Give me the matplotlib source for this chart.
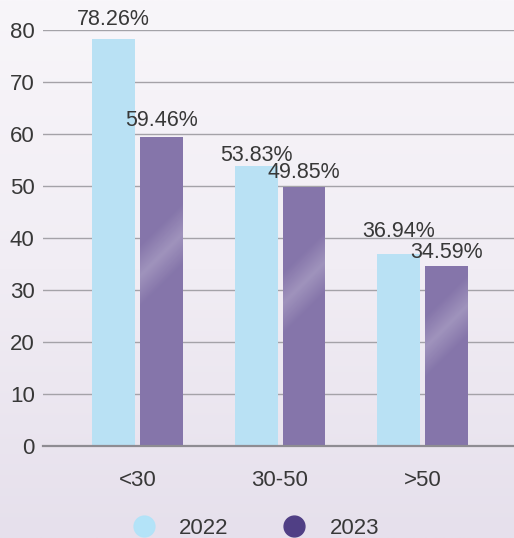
import numpy as np
import matplotlib.pyplot as plt
from matplotlib.lines import Line2D
from matplotlib.colors import LinearSegmentedColormap

plt.rcParams['font.family'] = ['Liberation Sans', 'DejaVu Sans']

# age groups and share per year (%)
groups = ["<30", "30-50", ">50"]
share_2022 = [78.26, 53.83, 36.94]
share_2023 = [59.46, 49.85, 34.59]
years = ["2022", "2023"]

# how far each value label sits above its bar (points)
lift_2022 = [14, 8, 16.5]
lift_2023 = [11.5, 10.5, 9.5]

c_2022 = "#b9e1f4"
c_2023 = "#8575aa"
legend_colors = ["#b3e3f8", "#503f85"]
text_color = "#383838"

fig = plt.figure(figsize=(5.14, 5.38), dpi=100)

# soft lavender backdrop
bg = fig.add_axes([0, 0, 1, 1], zorder=-10)
bg_cmap = LinearSegmentedColormap.from_list("bg", ["#f8f6fa", "#f1edf4", "#e6e0ec"])
grad = np.linspace(0, 1, 256).reshape(-1, 1)
bg.imshow(grad, aspect="auto", cmap=bg_cmap, extent=[0, 1, 0, 1], origin="upper")
bg.axis("off")

ax = fig.add_axes([0.0837, 0.171, 0.9163, 0.773])
ax.patch.set_alpha(0)

x = np.arange(len(groups))
w = 0.30
gap = 0.035
b1 = ax.bar(x - w / 2 - gap / 2, share_2022, w, color=c_2022, zorder=3)
b2 = ax.bar(x + w / 2 + gap / 2, share_2023, w, color=c_2023, zorder=3)

# lighter diagonal band across the 2023 bars
band_cmap = LinearSegmentedColormap.from_list("b", [(1, 1, 1, 0), (1, 1, 1, 0.22)])
for rect in b2:
    x0, y0 = rect.get_x(), rect.get_y()
    bw, bh = rect.get_width(), rect.get_height()
    X, Y = np.meshgrid(np.linspace(0, 1, 50), np.linspace(0, 1, 200))
    band = np.clip(1 - np.abs((Y * bh - 0.55 * bh) - X * 8) / 6, 0, 1)
    im = ax.imshow(band, extent=[x0, x0 + bw, y0, y0 + bh], origin="lower",
                   cmap=band_cmap, aspect="auto", zorder=4, interpolation="bilinear")
    im.set_clip_path(rect)

for bars, vals, lifts in ((b1, share_2022, lift_2022), (b2, share_2023, lift_2023)):
    for rect, v, dy in zip(bars, vals, lifts):
        ax.annotate(f"{v:.2f}%", (rect.get_x() + rect.get_width() / 2, v),
                    xytext=(0, dy), textcoords="offset points", ha="center", va="center",
                    fontsize=15.5, color=text_color, zorder=5, annotation_clip=False)

ax.set_xlim(-0.663, 2.642)
ax.set_ylim(0, 80)
ax.set_yticks(range(0, 81, 10))
ax.set_xticks(x)
ax.set_xticklabels(groups)
ax.tick_params(axis="both", length=0, labelsize=16, labelcolor=text_color)
ax.tick_params(axis="x", pad=17)
ax.tick_params(axis="y", pad=6)
ax.grid(axis="y", color="#a4a2a8", linewidth=1, zorder=0)
for s in ("top", "right", "left"):
    ax.spines[s].set_visible(False)
ax.spines["bottom"].set_color("#8e8c92")
ax.spines["bottom"].set_linewidth(1.6)
ax.spines["bottom"].set_zorder(6)

handles = [Line2D([], [], marker="o", linestyle="", markersize=15, color=c)
           for c in legend_colors]
fig.legend(handles, years, loc="center", bbox_to_anchor=(0.487, 0.018), ncol=2,
           frameon=False, fontsize=16, labelcolor=text_color,
           handletextpad=0.6, columnspacing=1.95)

fig.savefig("out.png", dpi=100)
